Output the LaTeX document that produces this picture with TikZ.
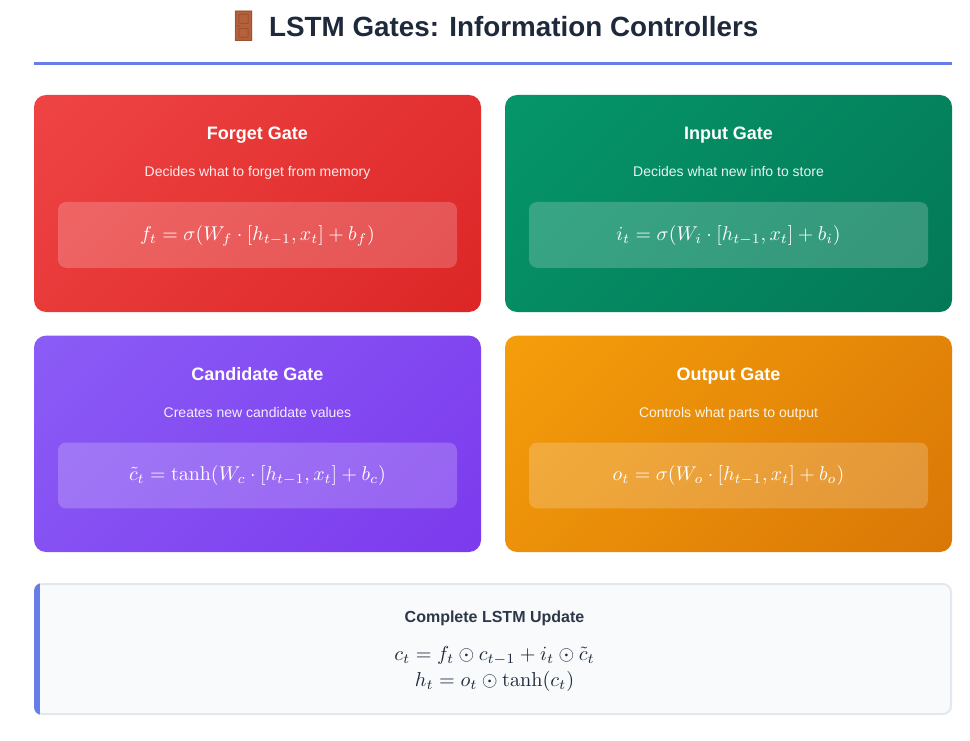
\documentclass[tikz,border=0pt]{standalone}
\usepackage{fix-cm}
\usepackage[no-math]{fontspec}
\usepackage{amsmath}
\setmainfont{Liberation Sans}
\newfontfamily\emojifont{Noto Emoji}
\usetikzlibrary{calc}
\definecolor{titleink}{HTML}{1E293B}
\definecolor{accent}{HTML}{667EEA}
\definecolor{panelfill}{HTML}{F8FAFC}
\definecolor{panelline}{HTML}{E2E8F0}
\definecolor{paneltitle}{HTML}{2D3748}
\definecolor{doorfill}{HTML}{B5623C}
\definecolor{doorline}{HTML}{9A5230}
\definecolor{redA}{HTML}{EF4444}\definecolor{redB}{HTML}{DC2626}
\definecolor{greenA}{HTML}{059669}\definecolor{greenB}{HTML}{047857}
\definecolor{purpleA}{HTML}{8B5CF6}\definecolor{purpleB}{HTML}{7C3AED}
\definecolor{orangeA}{HTML}{F59E0B}\definecolor{orangeB}{HTML}{D97706}
\tikzset{
  cardtitle/.style={text=white,font=\fontsize{18}{22}\selectfont\bfseries,inner sep=0pt,anchor=base},
  cardsub/.style={text=white,text opacity=.9,font=\fontsize{14}{17}\selectfont,inner sep=0pt,anchor=base},
  cardmath/.style={text=white,font=\fontsize{10}{12}\selectfont,inner sep=0pt,anchor=base,scale=1.99,transform shape},
  summath/.style={text=titleink,font=\fontsize{10}{12}\selectfont,inner sep=0pt,anchor=base,scale=2.02,transform shape},
  mathbox/.style={fill=white,fill opacity=.2,rounded corners=8pt},
}
% #1 name, #2 left x, #3 top y, #4 bottom y, #5,#6 colours, #7 title, #8 subtitle, #9 formula
\newcommand{\gatecard}[9]{%
  \begin{scope}
    \clip[rounded corners=12pt] (#2,#3) rectangle ({#2+447},#4);
    \shade[transform canvas={shift={({#2+223.5},{(#3+#4)/2})},rotate=-45},
           left color=#5,right color=#6] (-234.8pt,-270pt) rectangle (234.8pt,270pt);
  \end{scope}
  \path[mathbox] ({#2+24},{#3+107}) rectangle ({#2+423},{#3+172.8});
  \node[cardtitle] (#1title) at ({#2+223.5},{#3+44.4}) {#7};
  \node[cardsub] (#1sub) at ({#2+223.5},{#3+81.4}) {#8};
  \node[cardmath] (#1math) at ({#2+223.5},{#3+145.3}) {$#9$};
}
\begin{document}
\begin{tikzpicture}[x=1pt,y=-1pt]
\useasboundingbox (0,0) rectangle (970,741);
\fill[white] (0,0) rectangle (970,741);
% title
\fill[doorfill] (235.5,11.5) rectangle (252,41.5);
\node[inner sep=0pt,text=doorline,font=\emojifont\fontsize{30}{30}\selectfont] (door) at (243.7,26.5) {🚪};
\node[inner sep=0pt,text=titleink,font=\fontsize{27.8}{34}\selectfont\bfseries,anchor=base west] (title) at (269,36.5) {LSTM Gates: Information Controllers};
\fill[accent] (34,62) rectangle (952,65);
% cards
\gatecard{forget}{34}{95}{312}{redA}{redB}{Forget Gate}{Decides what to forget from memory}{f_t = \sigma(W_f \cdot [h_{t-1}, x_t] + b_f)}
\gatecard{input}{505}{95}{312}{greenA}{greenB}{Input Gate}{Decides what new info to store}{i_t = \sigma(W_i \cdot [h_{t-1}, x_t] + b_i)}
\gatecard{candidate}{34}{335.6}{552}{purpleA}{purpleB}{Candidate Gate}{Creates new candidate values}{\tilde{c}_t = \tanh(W_c \cdot [h_{t-1}, x_t] + b_c)}
\gatecard{output}{505}{335.6}{552}{orangeA}{orangeB}{Output Gate}{Controls what parts to output}{o_t = \sigma(W_o \cdot [h_{t-1}, x_t] + b_o)}
% summary panel
\filldraw[fill=panelfill,draw=panelline,line width=2pt,rounded corners=8pt] (35,584) rectangle (951,714);
\begin{scope}
  \clip[rounded corners=8pt] (34,583) rectangle (952,715);
  \fill[accent] (34,583) rectangle (40,715);
\end{scope}
\node[inner sep=0pt,text=paneltitle,font=\fontsize{16}{20}\selectfont\bfseries,anchor=base] (sumtitle) at (494.5,622) {Complete LSTM Update};
\node[summath] (sumone) at (494.5,660) {$c_t = f_t \odot c_{t-1} + i_t \odot \tilde{c}_t$};
\node[summath] (sumtwo) at (494.5,686) {$h_t = o_t \odot \tanh(c_t)$};
\end{tikzpicture}
\end{document}
